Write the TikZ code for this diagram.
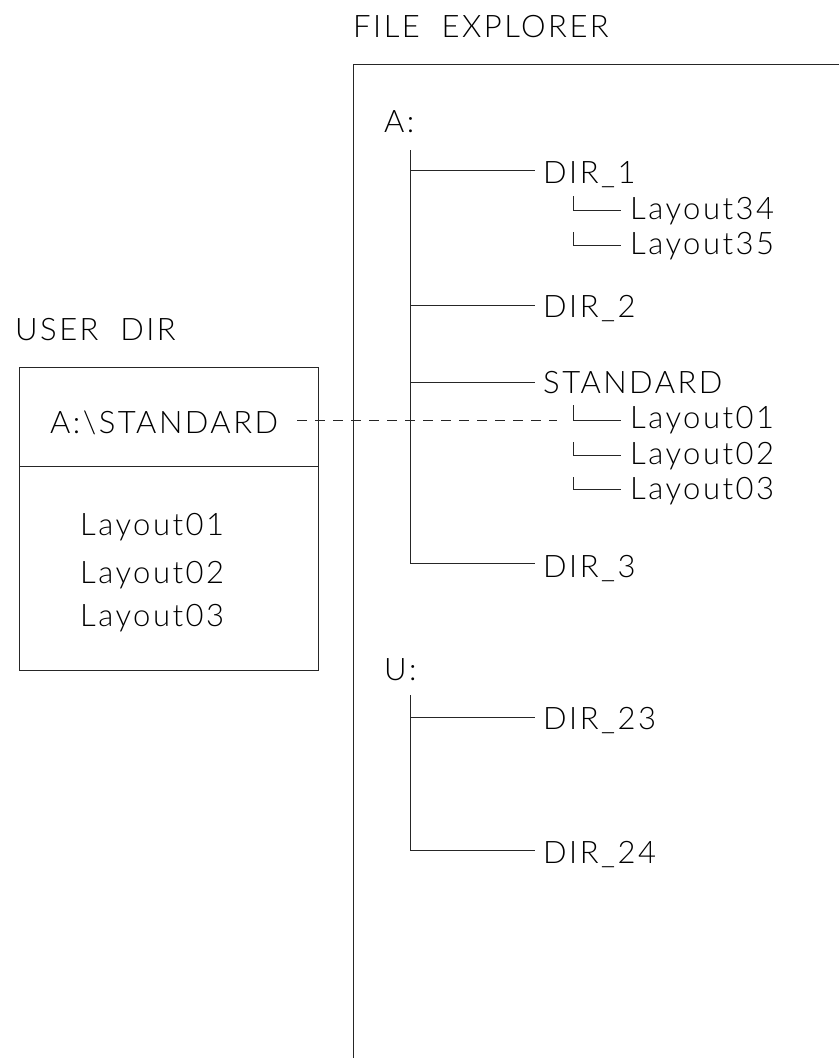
\documentclass[tikz,border=0pt]{standalone}
\usepackage{fontspec}
\setmainfont{Lato Light}[LetterSpace=8]
\begin{document}
\begin{tikzpicture}[x=1pt,y=-1pt,
  lbl/.style={anchor=base west,inner sep=0pt,font=\fontsize{31}{31}\selectfont},
  ln/.style={line width=0.8pt,draw=black!85},
  cadDash/.style={ln,dash pattern=on 10pt off 8pt}]
\useasboundingbox (0,0) rectangle (839,1058);
% titles
\node[lbl] (fe) at (353,37) {FILE\ \ EXPLORER};
\node[lbl] (ud) at (15,340) {USER\ \ DIR};
% explorer frame
\coordinate (frTR) at (839,64);
\coordinate (frTL) at (353,64);
\coordinate (frBL) at (353,1058);
\draw[ln] (frTR) -- (frTL) -- (frBL);
% drive A
\node[lbl] (drA) at (384,132) {A:};
\coordinate (aTop) at (410,150);
\coordinate (aBot) at (410,563);
\node[lbl] (d1) at (543,183) {DIR\_1};
\node[lbl] (l34) at (630,219) {Layout34};
\node[lbl] (l35) at (630,254) {Layout35};
\node[lbl] (d2) at (543,317) {DIR\_2};
\node[lbl] (std) at (543,393) {STANDARD};
\node[lbl] (l01) at (630,428) {Layout01};
\node[lbl] (l02) at (630,464) {Layout02};
\node[lbl] (l03) at (630,499) {Layout03};
\node[lbl] (d3) at (543,577) {DIR\_3};
\coordinate (bD1) at (535,170);
\coordinate (bD2) at (535,305);
\coordinate (bStd) at (535,382);
\draw[ln] (aTop) -- (aBot) -- (535,563);
\draw[ln] (410,170) -- (bD1);
\draw[ln] (410,305) -- (bD2);
\draw[ln] (410,382) -- (bStd);
% leaf L-shapes
\foreach \t/\b in {196/210, 232/245, 405/420, 442/455, 477/489}
  \draw[ln] (573,\t) -- (573,\b) -- (621,\b);
% drive U
\node[lbl] (drU) at (384,680) {U:};
\coordinate (uTop) at (410,695);
\coordinate (uBot) at (410,850);
\node[lbl] (d23) at (543,729) {DIR\_23};
\node[lbl] (d24) at (543,863) {DIR\_24};
\draw[ln] (uTop) -- (uBot) -- (535,850);
\draw[ln] (410,717) -- (535,717);
% user dir box
\coordinate (bxTL) at (19,367);
\coordinate (bxBR) at (318,670);
\draw[ln] (bxTL) rectangle (bxBR);
\draw[ln] (19,466) -- (318,466);
\node[lbl] (ustd) at (50,433) {A:\textbackslash STANDARD};
\node[lbl] (u01) at (80,535) {Layout01};
\node[lbl] (u02) at (80,583) {Layout02};
\node[lbl] (u03) at (80,626) {Layout03};
% dashed link
\coordinate (dS) at (297,420);
\coordinate (dE) at (557,420);
\draw[cadDash] (dS) -- (dE);
\end{tikzpicture}
\end{document}
